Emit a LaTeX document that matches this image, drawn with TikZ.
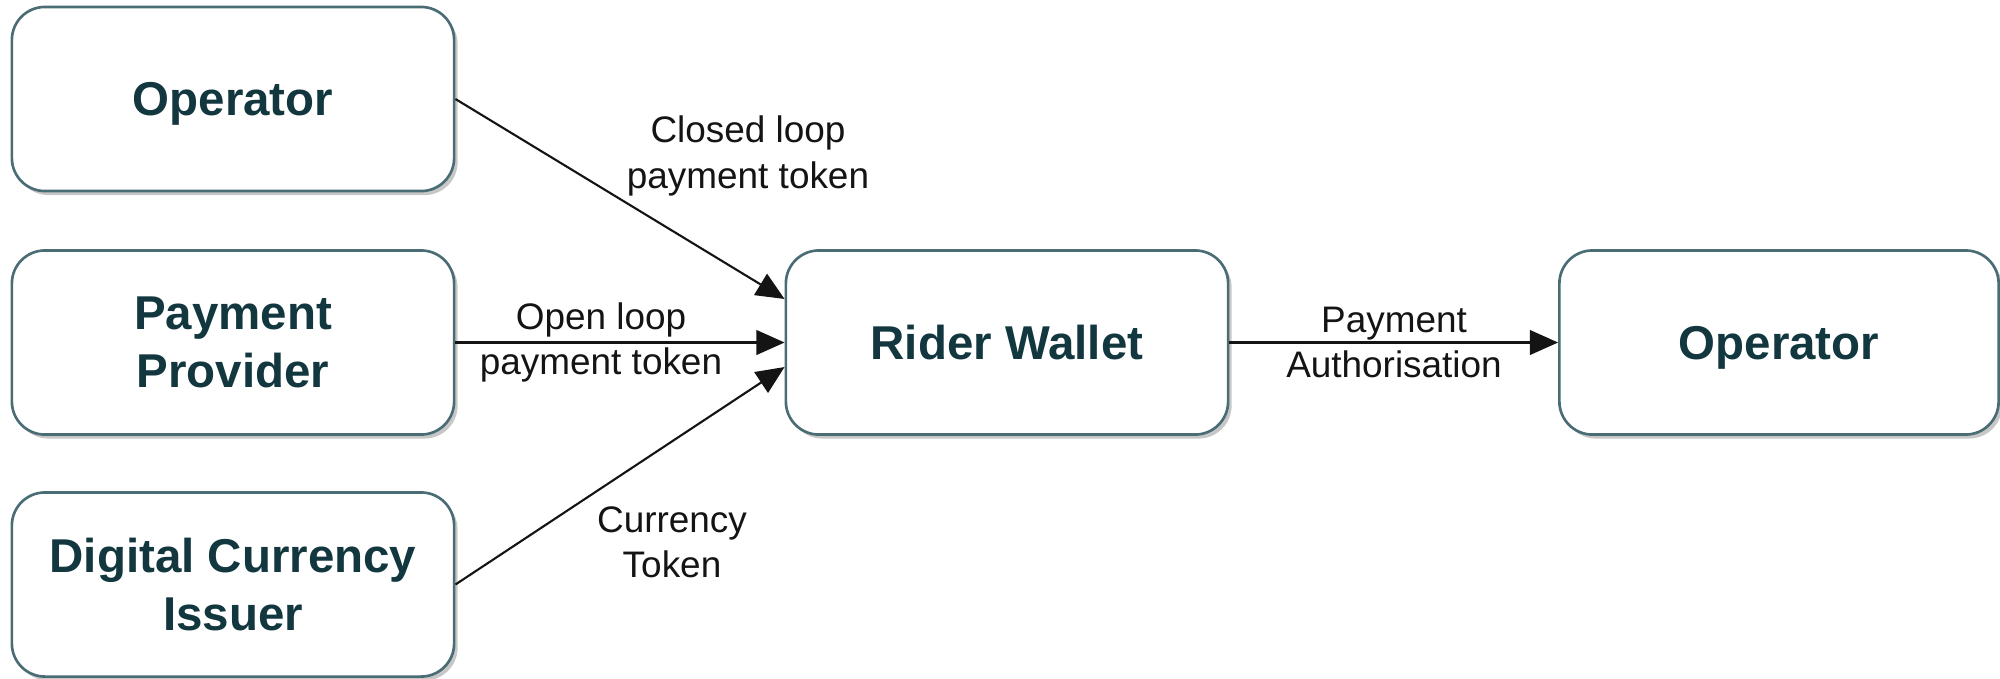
\documentclass[tikz,border=0pt]{standalone}
\usepackage{fontspec}
\setmainfont{Liberation Sans}
\usetikzlibrary{arrows.meta,shadows}
\definecolor{boxline}{HTML}{4A6C74}
\definecolor{boxtext}{HTML}{12373F}
\definecolor{arrowcol}{HTML}{141414}
\tikzset{
  entity/.style={draw=boxline, line width=0.75pt, fill=white, rounded corners=0.33cm,
    minimum width=4.42cm, minimum height=1.84cm, inner sep=0pt, align=center,
    text=boxtext, font=\fontsize{13.5}{16.5}\selectfont\bfseries,
    drop shadow={shadow xshift=0.035cm, shadow yshift=-0.04cm, opacity=0.22, fill=black}},
  flow/.style={draw=arrowcol, line width=0.6pt, -{Triangle[length=8pt,width=7pt]}},
  flowlabel/.style={inner sep=0pt, align=center, text=arrowcol,
    font=\fontsize{10.5}{12.9}\selectfont}
}
\begin{document}
\begin{tikzpicture}[x=0.01cm,y=-0.01cm]
\useasboundingbox (0,0) rectangle (2000,678);
\node[entity, text depth=0pt] (op1) at (233,99) {Operator};
\node[entity] (pp) at (233,342.5) {Payment\\Provider};
\node[entity] (dc) at (233,584.5) {Digital Currency\\Issuer};
\node[entity] (rw) at (1007,342.5) {Rider Wallet};
\node[entity, text depth=0pt, minimum width=4.39cm] (op2) at (1779,342.5) {Operator};
\coordinate (rwtop) at ([yshift=0.435cm]rw.west);
\coordinate (rwbot) at ([yshift=-0.245cm]rw.west);
\draw[flow] (op1.east) -- (rwtop);
\draw[flow] (pp.east) -- (rw.west);
\draw[flow] (dc.east) -- (rwbot);
\draw[flow] (rw.east) -- (op2.west);
\node[flowlabel] (l1) at (748,156) {Closed loop\\payment token};
\node[flowlabel] (l2) at (601,342.5) {Open loop\\payment token};
\node[flowlabel] (l3) at (672,542) {Currency\\Token};
\node[flowlabel] (l4) at (1394,342.5) {Payment\\Authorisation};
\end{tikzpicture}
\end{document}
